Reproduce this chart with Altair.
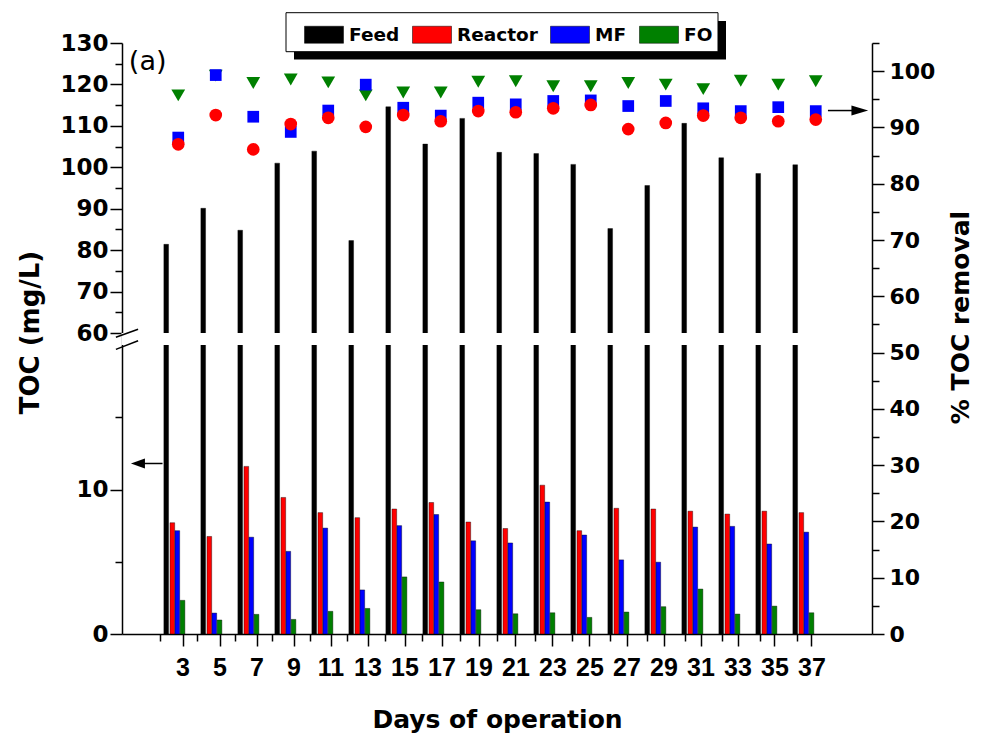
import altair as alt
import pandas as pd

# ---------------- data ----------------
days = [3, 5, 7, 9, 11, 13, 15, 17, 19, 21, 23, 25, 27, 29, 31, 33, 35, 37]
feed = [81.4, 90.1, 84.8, 101.0, 103.9, 82.3, 114.6, 105.6, 111.8, 103.6,
        103.3, 100.7, 85.2, 95.6, 110.6, 102.3, 98.5, 100.6]
reactor = [7.7, 6.75, 11.6, 9.45, 8.4, 8.05, 8.65, 9.1, 7.75, 7.3,
           10.3, 7.15, 8.7, 8.65, 8.5, 8.3, 8.5, 8.4]
mf = [7.15, 1.45, 6.7, 5.72, 7.33, 3.05, 7.5, 8.27, 6.45, 6.3,
      9.13, 6.85, 5.13, 4.97, 7.4, 7.45, 6.23, 7.05]
fo = [2.33, 0.97, 1.36, 1.01, 1.57, 1.77, 3.95, 3.6, 1.68, 1.4,
      1.47, 1.15, 1.52, 1.89, 3.11, 1.38, 1.93, 1.47]

rem_reactor = [87.0, 92.2, 86.1, 90.6, 91.7, 90.1, 92.2, 91.1, 92.9, 92.7,
               93.4, 94.0, 89.7, 90.8, 92.1, 91.7, 91.1, 91.4]
rem_mf = [88.2, 99.3, 91.9, 89.2, 93.0, 97.6, 93.5, 92.1, 94.4, 94.1,
          94.7, 94.8, 93.8, 94.7, 93.4, 92.9, 93.6, 92.9]
rem_fo = [95.7, 99.2, 97.9, 98.5, 98.0, 95.7, 96.2, 96.2, 98.1, 98.2,
          97.3, 97.3, 97.9, 97.6, 96.8, 98.3, 97.6, 98.2]

series = ["Feed", "Reactor", "MF", "FO"]
colors = ["#000000", "#ff0000", "#0000ff", "#008000"]

x_major = list(range(3, 38, 2))
x_minor = list(range(2, 37, 2))
left_major = [0, 10, 60, 70, 80, 90, 100, 110, 120, 130]
left_minor = [5, 15, 65, 75, 85, 95, 105, 115, 125]
right_major = list(range(0, 101, 10))
right_minor = list(range(5, 106, 10))

# ---------------- tables ----------------
bar_rows = []
for name, vals in zip(series, [feed, reactor, mf, fo]):
    for d, v in zip(days, vals):
        bar_rows.append({"day": d, "series": name, "toc": v})
bar_df = pd.DataFrame(bar_rows)

rem_rows = []
for name, vals in zip(["FO", "MF", "Reactor"], [rem_fo, rem_mf, rem_reactor]):
    for d, v in zip(days, vals):
        rem_rows.append({"day": d, "series": name, "removal": v})
rem_df = pd.DataFrame(rem_rows)

one = pd.DataFrame({"k": [0]})

W, H = 750, 591
BOLD_T = "DejaVu Sans"

x_scale = alt.Scale(domain=[0, 40], nice=False, zero=False)
left_scale = alt.Scale(domain=[0, 20, 60, 130], range=[H, 302, 290, 0], nice=False, zero=False)
right_scale = alt.Scale(domain=[0, 105], nice=False, zero=False)

common = dict(tickWidth=1.5, tickColor="black", domainColor="black", domainWidth=1.5,
              grid=False, labelOverlap=False, labelColor="black")

x_axis = alt.Axis(
    orient="bottom", values=x_major, tickSize=12,
    labelFont="Liberation Sans", labelFontWeight="bold", labelFontSize=25,
    labelPadding=9, labelBaseline="top", labelFlush=False,
    title="Days of operation", titleFont=BOLD_T, titleFontWeight="bold",
    titleFontSize=25, titleColor="black", titleX=375, titleY=93,
    titleAnchor="middle", titleBaseline="alphabetic", **common,
)
x_axis_minor = alt.Axis(
    orient="bottom", values=x_minor, tickSize=7, labels=False, domain=False,
    title=None, tickWidth=1.5, tickColor="black", grid=False,
)

left_axis = alt.Axis(
    orient="left", values=left_major, tickSize=12,
    labelFont=BOLD_T, labelFontWeight="bold", labelFontSize=23, labelPadding=2,
    title="TOC (mg/L)", titleFont=BOLD_T, titleFontWeight="bold", titleFontSize=26,
    titleColor="black", titleX=-92, titleY=289, titleAngle=270,
    titleBaseline="middle", titleAlign="center", **common,
)
left_axis_minor = alt.Axis(
    orient="left", values=left_minor, tickSize=7, labels=False, domain=False,
    title=None, tickWidth=1.5, tickColor="black", grid=False,
)

right_axis = alt.Axis(
    orient="right", values=right_major, tickSize=12,
    labelFont=BOLD_T, labelFontWeight="bold", labelFontSize=22, labelPadding=5,
    title="% TOC removal", titleFont=BOLD_T, titleFontWeight="bold", titleFontSize=25,
    titleColor="black", titleX=88, titleY=274, titleAngle=270,
    titleBaseline="middle", titleAlign="center", **common,
)
right_axis_minor = alt.Axis(
    orient="right", values=right_minor, tickSize=7, labels=False, domain=False,
    title=None, tickWidth=1.5, tickColor="black", grid=False,
)

legend = alt.Legend(
    orient="none", legendX=182, legendY=-28.5, direction="horizontal", columns=4,
    title=None, padding=0,
    symbolType="M-1,-0.436L1,-0.436L1,0.436L-1,0.436Z", symbolSize=1521,
    symbolStrokeColor="black", symbolStrokeWidth=0.5, symbolOpacity=1,
    labelFont=BOLD_T, labelFontWeight="bold", labelFontSize=18.5, labelColor="black",
    labelOffset=5, columnPadding=11,
)

# ---------------- left (TOC) group ----------------
shadow = alt.Chart(one).mark_rect(color="black").encode(
    x=alt.value(172), x2=alt.value(604), y=alt.value(-22), y2=alt.value(16.5)
)
legend_box = alt.Chart(one).mark_rect(fill="white", stroke="black", strokeWidth=1).encode(
    x=alt.value(164), x2=alt.value(596), y=alt.value(-30.3), y2=alt.value(8.7)
)

bars = alt.Chart(bar_df).transform_calculate(
    xpos="datum.day + (datum.series === 'Feed' ? -0.88 : datum.series === 'Reactor' ? -0.55 : datum.series === 'MF' ? -0.28 : 0)"
).mark_bar(size=4.7, stroke="black", strokeWidth=0.4).encode(
    x=alt.X("xpos:Q", scale=x_scale, axis=x_axis),
    y=alt.Y("toc:Q", scale=left_scale, axis=left_axis, stack=None),
    color=alt.Color("series:N", scale=alt.Scale(domain=series, range=colors), legend=legend),
)

gap = alt.Chart(one).mark_rect(color="white").encode(
    x=alt.datum(-0.3), x2=alt.datum(39.0), y=alt.datum(20.2), y2=alt.datum(59.8)
)
brk1 = alt.Chart(one).mark_rule(color="black", strokeWidth=1.5).encode(
    x=alt.datum(-0.6), x2=alt.datum(0.6), y=alt.datum(45.7), y2=alt.datum(60.9)
)
brk2 = alt.Chart(one).mark_rule(color="black", strokeWidth=1.5).encode(
    x=alt.datum(-0.6), x2=alt.datum(0.6), y=alt.datum(19.7), y2=alt.datum(34.3)
)
larrow_line = alt.Chart(one).mark_rule(color="black", strokeWidth=1.5).encode(
    x=alt.datum(1.92), x2=alt.datum(0.8), y=alt.datum(11.8)
)
larrow_head = alt.Chart(one).mark_point(
    shape="M-1,0L1,-0.7L1,0.7Z", size=196, filled=True, color="black", opacity=1
).encode(x=alt.datum(0.59), y=alt.datum(11.8))
label_a = alt.Chart(one).mark_text(
    text="(a)", font="DejaVu Sans", fontSize=27, align="left", baseline="middle", color="black"
).encode(x=alt.datum(0.1), y=alt.datum(125.5))

left_group = alt.layer(shadow, legend_box, bars, gap, brk1, brk2, larrow_line, larrow_head, label_a)

# ---------------- right (% removal) group ----------------
def pts(name, shape, size, color):
    return alt.Chart(rem_df).transform_filter(f"datum.series === '{name}'").mark_point(
        shape=shape, size=size, filled=True, color=color, opacity=1
    ).encode(
        x=alt.X("day:Q", scale=x_scale, axis=None),
        y=alt.Y("removal:Q", scale=right_scale, axis=right_axis),
    )

fo_pts = pts("FO", "triangle-down", 190, "#008000")
mf_pts = pts("MF", "square", 137, "#0000ff")
re_pts = pts("Reactor", "circle", 161, "#ff0000")

rarrow_line = alt.Chart(one).mark_rule(color="black", strokeWidth=1.5).encode(
    x=alt.datum(37.65), x2=alt.datum(39.0), y=alt.datum(93.0)
)
rarrow_head = alt.Chart(one).mark_point(
    shape="M1,0L-1,-0.6L-1,0.6Z", size=279, filled=True, color="black", opacity=1
).encode(x=alt.datum(39.35), y=alt.datum(93.0))

right_group = alt.layer(fo_pts, mf_pts, re_pts, rarrow_line, rarrow_head)

# ---------------- minor ticks (own axes on identical scales) ----------------
minor_left = alt.Chart(one).mark_point(opacity=0).encode(
    x=alt.X("k:Q", scale=x_scale, axis=x_axis_minor),
    y=alt.Y("k:Q", scale=left_scale, axis=left_axis_minor),
)
minor_right = alt.Chart(one).mark_point(opacity=0).encode(
    x=alt.X("k:Q", scale=x_scale, axis=None),
    y=alt.Y("k:Q", scale=right_scale, axis=right_axis_minor),
)

chart = alt.layer(left_group, right_group, minor_left, minor_right).resolve_scale(
    x="independent", y="independent"
).properties(
    width=W, height=H,
    padding={"left": 122, "top": 43, "right": 110, "bottom": 111},
    autosize=alt.AutoSizeParams(type="none"),
    background="white",
).configure_view(strokeWidth=0)

chart.save("out.html", embed_options={"renderer": "svg", "actions": False})
